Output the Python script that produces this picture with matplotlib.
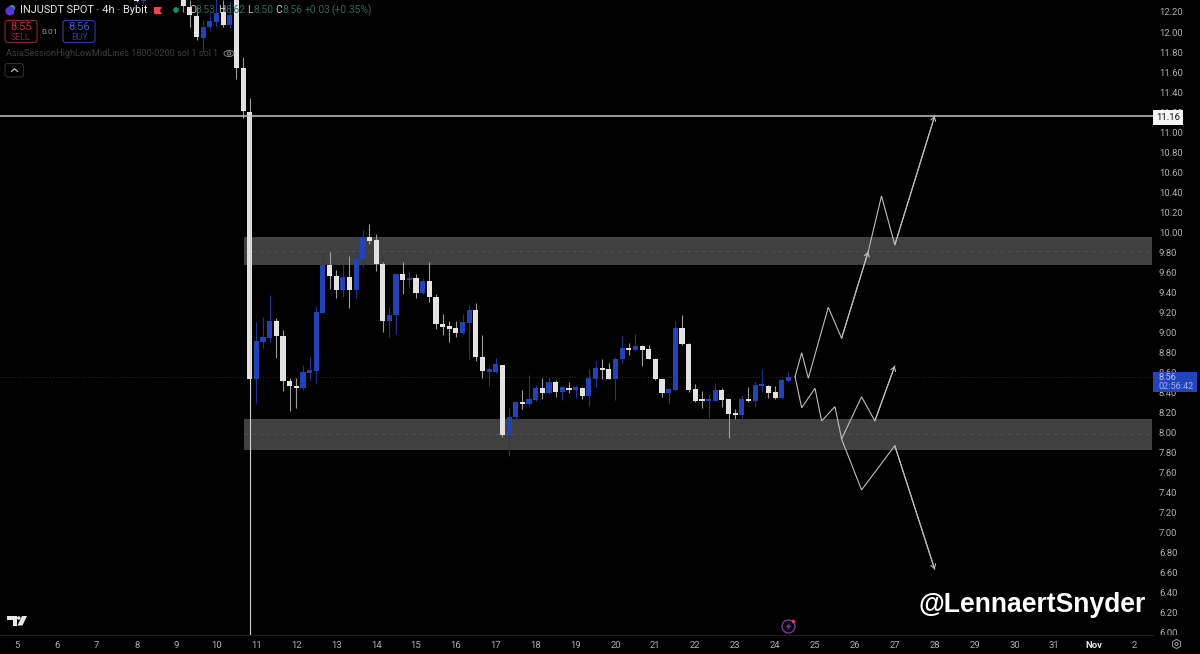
import matplotlib
matplotlib.use("Agg")
import matplotlib.pyplot as plt
import numpy as np
from matplotlib.patches import Circle, Ellipse, FancyBboxPatch, Polygon, Rectangle
from matplotlib.transforms import Affine2D, Bbox, TransformedBbox

WIDTH, HEIGHT = 1200, 654

# 4h candles, bar 0 is the big drop on the 10th
FIRST_BAR = -17
opens = [12.40, 12.31, 12.40, 12.50, 12.48, 12.56, 12.50, 12.35, 12.25, 12.16, 11.94, 12.05, 12.10, 12.20, 12.07, 12.33, 11.64,
         11.20, 8.532, 8.908, 8.948, 9.118, 8.968, 8.519, 8.469, 8.443, 8.599, 8.619, 9.198, 9.67, 9.564, 9.428, 9.554, 9.428, 9.734,
         9.953, 9.92, 9.68, 9.118, 9.175, 9.584, 9.527, 9.544, 9.391, 9.514, 9.354, 9.082, 9.062, 9.042, 8.998, 9.098, 9.221, 8.759,
         8.61, 8.609, 8.679, 7.973, 8.154, 8.307, 8.283, 8.33, 8.45, 8.40, 8.506, 8.407, 8.45, 8.427, 8.45, 8.367, 8.54, 8.643,
         8.633, 8.54, 8.736, 8.846, 8.826, 8.866, 8.832, 8.739, 8.533, 8.40, 8.43, 9.045, 8.886, 8.433, 8.333, 8.32, 8.32, 8.43,
         8.333, 8.193, 8.177, 8.333, 8.317, 8.47, 8.47, 8.403, 8.343, 8.52]
highs = [12.45, 12.45, 12.55, 12.62, 12.60, 12.66, 12.58, 12.40, 12.32, 12.25, 12.12, 12.19, 12.40, 12.32, 12.30, 12.50, 11.748,
         11.34, 9.108, 9.158, 9.374, 9.141, 9.025, 8.542, 8.549, 8.676, 8.759, 9.268, 9.807, 9.80, 9.624, 9.674, 9.76, 9.807, 10.023,
         10.087, 9.98, 9.707, 9.258, 9.587, 9.707, 9.614, 9.581, 9.547, 9.707, 9.381, 9.181, 9.115, 9.115, 9.181, 9.275, 9.298, 8.975,
         8.66, 8.742, 8.68, 8.243, 8.32, 8.427, 8.576, 8.476, 8.543, 8.553, 8.526, 8.466, 8.503, 8.473, 8.46, 8.636, 8.72, 8.736,
         8.70, 8.76, 8.966, 8.899, 8.986, 8.872, 8.876, 8.746, 8.54, 8.446, 9.119, 9.179, 8.892, 8.483, 8.42, 8.383, 8.493, 8.45,
         8.34, 8.233, 8.377, 8.453, 8.51, 8.636, 8.476, 8.466, 8.533, 8.62]
lows = [12.30, 12.28, 12.38, 12.45, 12.44, 12.46, 12.40, 12.20, 12.05, 11.92, 11.80, 12.01, 12.05, 12.05, 12.04, 11.53, 11.139,
        8.50, 8.293, 8.849, 8.902, 8.742, 8.419, 8.216, 8.25, 8.426, 8.519, 8.499, 9.198, 9.434, 9.348, 9.358, 9.248, 9.348, 9.657,
        9.884, 9.617, 9.008, 8.952, 8.985, 9.384, 9.458, 9.348, 9.381, 9.308, 9.032, 8.975, 8.908, 8.952, 8.982, 8.732, 8.715, 8.542,
        8.47, 8.592, 7.96, 7.77, 8.13, 8.233, 8.267, 8.317, 8.333, 8.393, 8.353, 8.327, 8.393, 8.35, 8.333, 8.27, 8.46, 8.536,
        8.533, 8.327, 8.693, 8.776, 8.819, 8.666, 8.733, 8.526, 8.353, 8.293, 8.427, 8.876, 8.41, 8.307, 8.25, 8.144, 8.317, 8.253,
        7.944, 8.134, 8.134, 8.31, 8.26, 8.41, 8.35, 8.337, 8.337, 8.51]
closes = [12.31, 12.40, 12.50, 12.48, 12.56, 12.50, 12.42, 12.26, 12.17, 11.95, 12.05, 12.11, 12.19, 12.07, 12.17, 11.638, 11.215,
          8.536, 8.915, 8.955, 9.115, 8.968, 8.519, 8.466, 8.446, 8.602, 8.626, 9.205, 9.674, 9.564, 9.428, 9.554, 9.428, 9.737, 9.957,
          9.917, 9.68, 9.118, 9.178, 9.587, 9.524, 9.547, 9.398, 9.514, 9.351, 9.082, 9.058, 9.038, 8.998, 9.105, 9.221, 8.752, 8.612,
          8.64, 8.682, 7.973, 8.16, 8.307, 8.29, 8.333, 8.45, 8.40, 8.506, 8.407, 8.453, 8.423, 8.453, 8.367, 8.543, 8.643, 8.623,
          8.54, 8.739, 8.846, 8.829, 8.866, 8.829, 8.736, 8.533, 8.40, 8.437, 9.045, 8.882, 8.427, 8.32, 8.32, 8.333, 8.43, 8.327,
          8.187, 8.177, 8.333, 8.317, 8.476, 8.476, 8.397, 8.343, 8.526, 8.556]

# hand drawn scenario paths: bar number, price
up_bars_a = [82, 83, 84, 87, 89, 93]
up_prices_a = [8.559, 8.798, 8.543, 9.252, 8.942, 9.807]
up_bars_b = [93, 95, 97, 103]
up_prices_b = [9.807, 10.363, 9.874, 11.162]
mid_bars = [82, 83, 85, 86, 88, 89, 92, 94, 97]
mid_prices = [8.559, 8.249, 8.443, 8.117, 8.26, 7.937, 8.359, 8.117, 8.666]
down_bars = [89, 92, 97, 103]
down_prices = [7.937, 7.428, 7.87, 6.636]

resistance_zone = (9.67, 9.95, 9.817)
support_zone = (7.83, 8.14, 7.987)
target_price = 11.16
last_price = 8.56

price_ticks = np.arange(6.0, 12.21, 0.2)
day_ticks = list(range(5, 34))
day_labels = [str(d) for d in range(5, 32)] + ["Nov", "2"]

BLUE = "#2243b8"
WHITE = "#e2e2e2"
GREY = "#b0b0b0"
PATH = "#bdbdbd"

plt.rcParams["font.family"] = ["Roboto", "DejaVu Sans"]
# overlay coordinates: reference pixels, y going down
PX = Affine2D().scale(1, -1).translate(0, HEIGHT)


def bar_day(bar):
    return 10.8333 + np.asarray(bar) / 6


def draw_candles(ax):
    o, h, l, c = map(np.array, (opens, highs, lows, closes))
    x = bar_day(np.arange(FIRST_BAR, FIRST_BAR + len(o)))
    up = c >= o
    ax.vlines(x[up], l[up], h[up], color="#20348c", lw=0.8, zorder=3)
    ax.vlines(x[~up], l[~up], h[~up], color="#9c9c9c", lw=0.8, zorder=3)
    body = np.maximum(np.abs(c - o), 0.02)
    ax.bar(x[up], body[up], 0.13, np.minimum(o, c)[up], color=BLUE, zorder=4)
    ax.bar(x[~up], body[~up], 0.13, np.minimum(o, c)[~up], color=WHITE, zorder=4)


def draw_path(ax, bars, prices):
    x = bar_day(bars)
    ax.plot(x, prices, color=PATH, lw=0.8, zorder=6, solid_joinstyle="miter")
    ax.annotate("", xy=(x[-1], prices[-1]), xytext=(x[-2], prices[-2]),
                arrowprops=dict(arrowstyle="->,head_length=0.28,head_width=0.18", color=PATH,
                                lw=0.8, shrinkA=0, shrinkB=0), zorder=6)


def label(fig, x, y, s, color, size, **kw):
    kw.setdefault("va", "center")
    fig.text(x, y, s, color=color, fontsize=size, transform=PX, zorder=8, **kw)


def box(fig, x, y, w, h, face="none", edge="none", lw=0.8, rounded=False):
    if rounded:
        p = FancyBboxPatch((x, y), w, h, boxstyle="round,pad=0,rounding_size=2.5", fc=face, ec=edge, lw=lw,
                           transform=PX, zorder=7)
    else:
        p = Rectangle((x, y), w, h, fc=face, ec=edge, lw=lw, transform=PX, zorder=7)
    fig.add_artist(p)


def draw_header(fig):
    fig.add_artist(Circle((12, 8), 3, fc="#27a0a0", transform=PX, zorder=7))
    fig.add_artist(Circle((10, 11), 4.5, fc="#5a35d0", transform=PX, zorder=7))
    label(fig, 20, 10, "INJUSDT SPOT · 4h · Bybit", "#e6e6e6", 7.9)
    fig.add_artist(Polygon([(154, 7), (162, 7), (160, 10.5), (162, 14), (154, 14)], fc="#f2444f", transform=PX, zorder=7))
    fig.add_artist(Circle((176, 10), 2.8, fc="#1f8a63", transform=PX, zorder=7))
    for x, s in [(189, "O"), (218, "H"), (247, "L"), (275, "C")]:
        label(fig, x, 10, s, "#cfcfcf", 7.4)
    for x, s in [(195, "8.53"), (225, "8.62"), (253, "8.50"), (282, "8.56"), (305, "+0.03"), (331, "(+0.35%)")]:
        label(fig, x, 10, s, "#2c6a52", 7.4)

    box(fig, 5, 20.5, 32, 22, edge="#8f2638", rounded=True)
    label(fig, 21, 27, "8.55", "#c4304c", 8, ha="center")
    label(fig, 21, 37, "SELL", "#87243a", 6.3, ha="center")
    label(fig, 50, 32, "0.01", "#a0a0a0", 6, ha="center")
    box(fig, 63, 20.5, 32, 22, edge="#2a3f9c", rounded=True)
    label(fig, 79, 27, "8.56", "#3c5ccc", 8, ha="center")
    label(fig, 79, 37, "BUY", "#2a3f9c", 6.3, ha="center")

    label(fig, 6, 54, "AsiaSessionHighLowMidLines 1800-0200 sol 1 sol 1", "#3e3e3e", 6.55)
    fig.add_artist(Ellipse((229, 53.5), 10, 6, fc="none", ec="#8a8a8a", lw=0.7, transform=PX, zorder=7))
    fig.add_artist(Circle((229, 53.5), 1.6, fc="none", ec="#8a8a8a", lw=0.7, transform=PX, zorder=7))
    box(fig, 5, 63.5, 18.5, 13.5, edge="#2c2c2c", rounded=True)
    fig.add_artist(plt.Line2D([11.5, 14.5, 17.5], [71.5, 68.8, 71.5], color="#cfcfcf", lw=0.8, transform=PX, zorder=8))


def draw_footer(fig):
    # TradingView logo and the two little icons
    fig.add_artist(Polygon([(7, 616), (17, 616), (17, 625.5), (13, 625.5), (13, 620), (7, 620)], fc="#e8e8e8", transform=PX, zorder=7))
    fig.add_artist(Circle((18.8, 618), 1.8, fc="#e8e8e8", transform=PX, zorder=7))
    fig.add_artist(Polygon([(22, 616), (27, 616), (22.5, 625.5), (17.5, 625.5)], fc="#e8e8e8", transform=PX, zorder=7))
    fig.add_artist(Circle((788.5, 626.5), 6.5, fc="none", ec="#7a3a96", lw=1.0, transform=PX, zorder=7))
    fig.add_artist(Polygon([(790, 622), (785.5, 627.5), (788.5, 627.5), (787, 631), (791.5, 625.5), (788.5, 625.5)],
                           fc="#7a3a96", transform=PX, zorder=7))
    fig.add_artist(Circle((793.5, 621.5), 1.8, fc="#e0405a", transform=PX, zorder=8))
    angles = np.deg2rad(np.arange(30, 390, 60))
    fig.add_artist(Polygon(np.c_[1176.5 + 4.6 * np.cos(angles), 644 + 4.6 * np.sin(angles)], fc="none", ec="#8c8c8c", lw=0.8,
                           transform=PX, zorder=7))
    fig.add_artist(Circle((1176.5, 644), 1.5, fc="none", ec="#8c8c8c", lw=0.8, transform=PX, zorder=7))
    label(fig, 919, 604.5, "@LennaertSnyder", "#ffffff", 19.1, family="Liberation Sans", weight="bold")


def main():
    fig = plt.figure(figsize=(WIDTH / 100, HEIGHT / 100), dpi=100, facecolor="#000000")
    ax = fig.add_axes([0, 19 / HEIGHT, 1153 / WIDTH, 635 / HEIGHT], facecolor="#000000")
    ax.set_xlim(5 - 17 / 39.9, 5 + (1153 - 17) / 39.9)
    ax.set_ylim(12.2 - 623 / 100.16, 12.2 + 12 / 100.16)

    for low, high, mid in (resistance_zone, support_zone):
        ax.axhspan(low, high, xmin=244 / 1153, xmax=1151.5 / 1153, color="#404040", lw=0, zorder=1)
        ax.hlines(mid, 10.7, 33.43, color="#585858", lw=0.5, ls=(0, (5, 6)), zorder=2)

    ax.axhline(last_price, color="#2b2b2b", lw=0.7, ls=(0, (1, 2)), zorder=1)
    ax.axhline(target_price, color="#c4c4c4", lw=1.1, zorder=5)
    ax.vlines(bar_day(0), ax.get_ylim()[0], target_price, color="#d0d0d0", lw=0.8, zorder=5)

    draw_candles(ax)

    draw_path(ax, up_bars_a, up_prices_a)
    draw_path(ax, up_bars_b, up_prices_b)
    draw_path(ax, mid_bars, mid_prices)
    draw_path(ax, down_bars, down_prices)

    ax.yaxis.tick_right()
    ax.set_yticks(price_ticks)
    ax.set_yticklabels([f"{p:.2f}" for p in price_ticks], fontsize=6.8, color=GREY, ha="left")
    ax.set_xticks(day_ticks)
    ax.set_xticklabels(day_labels, fontsize=6.8, color=GREY)
    ax.get_xticklabels()[-2].set_color("#e0e0e0")
    ax.get_xticklabels()[-2].set_fontweight("bold")
    ax.tick_params(length=0, axis="y", pad=4.3)
    ax.tick_params(length=0, axis="x", pad=4.5)
    for name, spine in ax.spines.items():
        spine.set_visible(name == "bottom")
    ax.spines["bottom"].set_color("#1e1e1e")
    ax.spines["bottom"].set_bounds(*ax.get_xlim())

    # the 6.00 label is cut by the time scale in the screenshot
    clip = TransformedBbox(Bbox([[0, 19 / HEIGHT], [1, 1]]), fig.transFigure)
    ax.get_yticklabels()[0].set_clip_box(clip)
    ax.get_yticklabels()[0].set_clip_on(True)

    # price scale tags
    box(fig, 1153, 110, 30, 15, face="#f4f4f4")
    label(fig, 1168, 117, f"{target_price:.2f}", "#111111", 6.8, ha="center")
    box(fig, 1153, 371.7, 44, 20, face="#2444bc")
    label(fig, 1158.5, 377, f"{last_price:.2f}", "#b4c2f4", 6.6)
    label(fig, 1158.5, 386.5, "02:56:42", "#9fb0ee", 6.6)

    draw_header(fig)
    draw_footer(fig)

    fig.savefig("out.png", dpi=100, facecolor=fig.get_facecolor())


if __name__ == "__main__":
    main()
